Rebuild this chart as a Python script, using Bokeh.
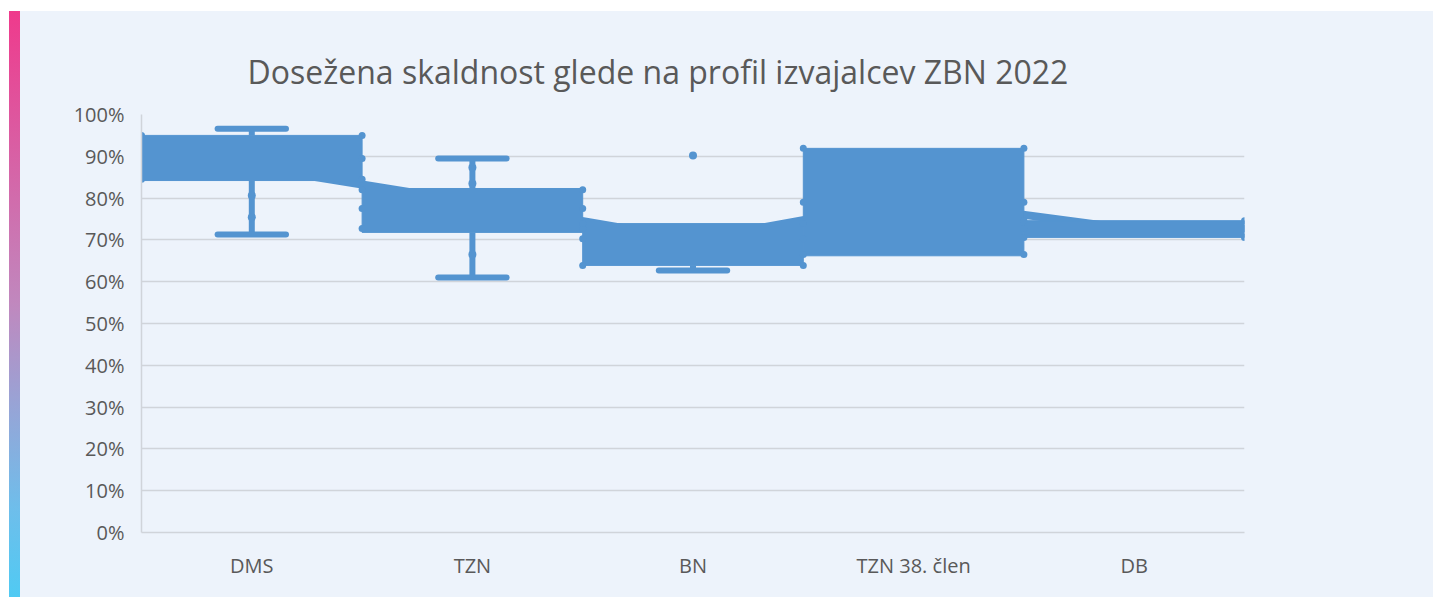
import numpy as np
from bokeh.plotting import figure
from bokeh.models import FixedTicker, NumeralTickFormatter, Range1d
from bokeh.embed import file_html
from bokeh.resources import INLINE

# ---------------- data ----------------
categories = ["DMS", "TZN", "BN", "TZN 38. člen", "DB"]
q1 = [0.842, 0.718, 0.639, 0.662, 0.706]
q3 = [0.950, 0.823, 0.739, 0.919, 0.746]
whisker_low = [0.713, 0.610, 0.627, 0.662, 0.706]
whisker_high = [0.966, 0.895, 0.739, 0.919, 0.746]
means = [0.875, 0.790, 0.700, 0.795, 0.725]
edge_points = [[0.950, 0.895, 0.845], [0.820, 0.775, 0.727], [0.739, 0.703, 0.639],
               [0.919, 0.790, 0.665], [0.746, 0.727, 0.706]]
inner_points = [[0.806, 0.754], [0.873, 0.835, 0.665], [], [], []]
outliers = [[], [], [0.902], [], []]
y_ticks = [0.0, 0.1, 0.2, 0.3, 0.4, 0.5, 0.6, 0.7, 0.8, 0.9, 1.0]
title_text = "Dosežena skaldnost glede na profil izvajalcev ZBN 2022"

# ---------------- style ----------------
BLUE = "#5494D0"
BG = "#EDF3FB"
GRID = "#D0D4DA"
TXT = "#595959"
FONT = "Open Sans"

W, H = 1433, 597
FL, FR, FT, FB = 141, 1244, 114, 532   # frame edges in page pixels
p = figure(width=W, height=H, output_backend="svg", toolbar_location=None,
           x_range=Range1d(0, len(categories)), y_range=Range1d(0, 1),
           min_border_left=FL, min_border_right=W - FR,
           min_border_top=FT, min_border_bottom=H - FB)
p.border_fill_alpha = 0
p.background_fill_color = BG
p.outline_line_color = None
p.styles = {
    "background": (
        "linear-gradient(to bottom, #EF3A8C 0%, #C088BE 50%, #96A5D7 68%, #6EBEEB 85%, #50CAF3 100%) "
        "9px 11px / 11px calc(100% - 11px) no-repeat, "
        "linear-gradient(#EDF3FB, #EDF3FB) 9px 11px / calc(100% - 9px) calc(100% - 11px) no-repeat, "
        "#FFFFFF"
    )
}

xs = np.arange(len(categories)) + 0.5

# mean connector (thick line, under the boxes)
p.line(xs, means, line_color=BLUE, line_width=8)

# boxes
p.quad(left=xs - 0.5, right=xs + 0.5, bottom=q1, top=q3,
       fill_color=BLUE, line_color=BLUE, line_width=1)

# whiskers
for i in range(len(categories)):
    if whisker_high[i] > q3[i]:
        p.segment(xs[i], q3[i], xs[i], whisker_high[i], line_color=BLUE, line_width=6)
        p.segment(xs[i] - 0.155, whisker_high[i], xs[i] + 0.155, whisker_high[i],
                  line_color=BLUE, line_width=6, line_cap="round")
    if whisker_low[i] < q1[i]:
        p.segment(xs[i], whisker_low[i], xs[i], q1[i], line_color=BLUE, line_width=6)
        p.segment(xs[i] - 0.155, whisker_low[i], xs[i] + 0.155, whisker_low[i],
                  line_color=BLUE, line_width=6, line_cap="round")

# points
ex, ey = [], []
for i, pts in enumerate(edge_points):
    for v in pts:
        ex += [xs[i] - 0.5, xs[i] + 0.5]
        ey += [v, v]
p.scatter(ex, ey, size=7, fill_color=BLUE, line_color=None)
ix, iy = [], []
for i, pts in enumerate(inner_points + outliers):
    for v in pts:
        ix.append(xs[i % len(categories)])
        iy.append(v)
p.scatter(ix, iy, size=8, fill_color=BLUE, line_color=None)

# axes
p.xgrid.grid_line_color = None
p.ygrid.grid_line_color = GRID
p.ygrid.grid_line_width = 1.5
p.ygrid.ticker = FixedTicker(ticks=y_ticks)

p.yaxis.ticker = FixedTicker(ticks=y_ticks)
p.yaxis.formatter = NumeralTickFormatter(format="0%")
p.xaxis.ticker = FixedTicker(ticks=list(xs))
p.xaxis.major_label_overrides = {float(x): c for x, c in zip(xs, categories)}
for ax in (p.xaxis[0], p.yaxis[0]):
    ax.axis_line_color = GRID
    ax.axis_line_width = 1.5
    ax.major_tick_line_color = None
    ax.major_tick_out = 0
    ax.major_tick_in = 0
    ax.minor_tick_line_color = None
    ax.minor_tick_out = 0
    ax.major_label_text_font = FONT
    ax.major_label_text_font_size = "20px"
    ax.major_label_text_color = TXT
p.yaxis.major_label_standoff = 17
p.xaxis.major_label_standoff = 19

# title
p.title.text = title_text
p.title.align = "left"
p.title.offset = 106
p.title.standoff = 43
p.title.text_font = FONT
p.title.text_font_size = "32px"
p.title.text_font_style = "normal"
p.title.text_color = TXT

open("out.html", "w").write(file_html(p, INLINE))
